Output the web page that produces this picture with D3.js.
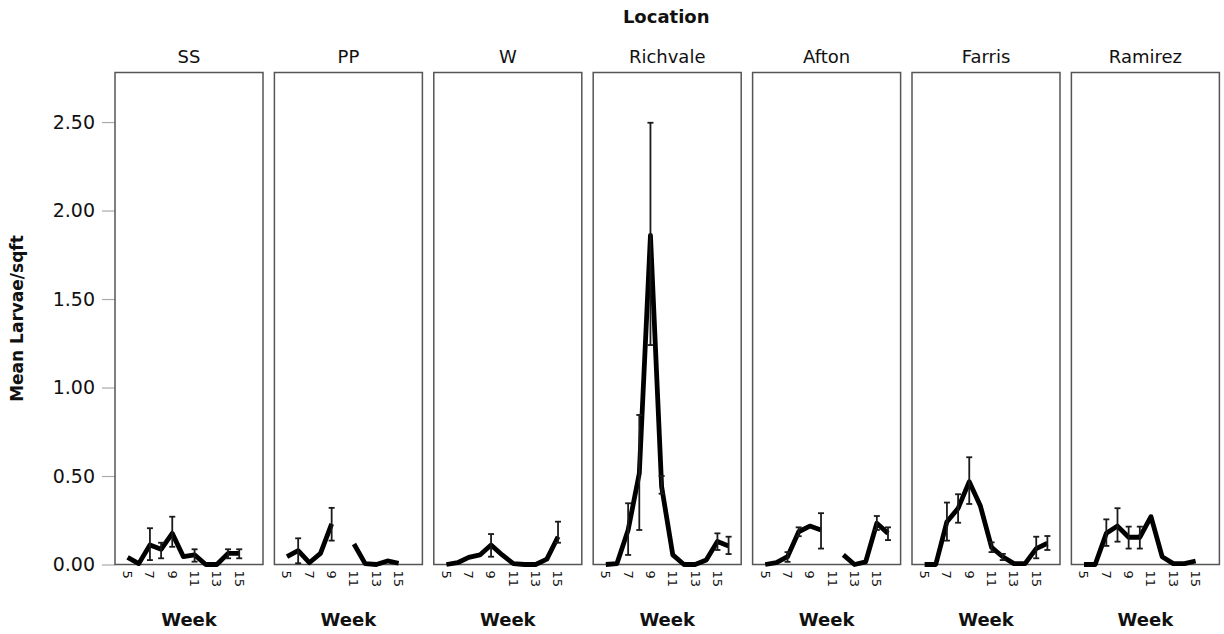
<!DOCTYPE html>
<html>
<head>
<meta charset="utf-8">
<script src="https://cdn.jsdelivr.net/npm/d3@7"></script>
<style>
  body { margin: 0; background: #fff; }
  text { font-family: "DejaVu Sans", sans-serif; fill: #111; }
</style>
</head>
<body>
<div class="chart"></div>
<script>
// categories
var locations = [`SS`, `PP`, `W`, `Richvale`, `Afton`, `Farris`, `Ramirez`];
var weeks = [5, 6, 7, 8, 9, 10, 11, 12, 13, 14, 15, 16];
var weekTicks = [5, 7, 9, 11, 13, 15];
var yTicks = [0, 0.5, 1, 1.5, 2, 2.5];

// mean larvae per sqft by week (null = no data)
var ssMean = [0.04, 0.005, 0.11, 0.086, 0.176, 0.044, 0.054, 0, 0, 0.063, 0.063, null];
var ppMean = [0.044, 0.078, 0.01, 0.063, 0.229, null, 0.116, 0.005, 0, 0.02, 0.007, null];
var wMean = [0, 0.01, 0.04, 0.054, 0.11, 0.054, 0.005, 0, 0, 0.03, 0.157, null];
var richvaleMean = [0, 0.005, 0.195, 0.515, 1.86, 0.44, 0.054, 0, 0, 0.025, 0.13, 0.105];
var aftonMean = [0, 0.01, 0.044, 0.185, 0.217, 0.195, null, 0.054, 0, 0.015, 0.233, 0.176];
var farrisMean = [0, 0, 0.242, 0.317, 0.468, 0.33, 0.097, 0.044, 0.005, 0.005, 0.09, 0.12];
var ramirezMean = [0, 0, 0.176, 0.217, 0.154, 0.154, 0.27, 0.044, 0.005, 0.005, 0.02, null];

// error bar low / high ends (null = no bar drawn)
var ssLo = [null, null, 0.025, 0.035, 0.10, null, 0.016, null, null, 0.035, 0.035, null];
var ssHi = [null, null, 0.205, 0.123, 0.27, null, 0.086, null, null, 0.086, 0.086, null];
var ppLo = [null, 0.007, null, null, 0.135, null, null, null, null, null, null, null];
var ppHi = [null, 0.148, null, null, 0.32, null, null, null, null, null, null, null];
var wLo = [null, null, null, null, 0.044, null, null, null, null, null, 0.123, null];
var wHi = [null, null, null, null, 0.172, null, null, null, null, null, 0.242, null];
var richvaleLo = [null, null, 0.054, 0.195, 1.24, 0.40, null, null, null, null, 0.082, 0.059];
var richvaleHi = [null, null, 0.346, 0.845, 2.496, 0.50, null, null, null, null, 0.176, 0.157];
var aftonLo = [null, null, 0.015, 0.16, null, 0.09, null, null, null, null, 0.195, 0.138];
var aftonHi = [null, null, 0.07, 0.21, null, 0.29, null, null, null, null, 0.274, 0.21];
var farrisLo = [null, null, 0.135, 0.236, 0.342, null, 0.07, 0.025, null, null, 0.035, 0.082];
var farrisHi = [null, null, 0.35, 0.397, 0.606, null, 0.125, 0.06, null, null, 0.157, 0.161];
var ramirezLo = [null, null, 0.105, 0.129, 0.09, 0.09, null, null, null, null, null, null];
var ramirezHi = [null, null, 0.255, 0.318, 0.214, 0.214, null, null, null, null, null, null];

var means = [ssMean, ppMean, wMean, richvaleMean, aftonMean, farrisMean, ramirezMean];
var los = [ssLo, ppLo, wLo, richvaleLo, aftonLo, farrisLo, ramirezLo];
var his = [ssHi, ppHi, wHi, richvaleHi, aftonHi, farrisHi, ramirezHi];

var fullWidth = 1224;
var fullHeight = 634;
var plotTop = 72.5, plotBottom = 564.5;

var svg = d3.select(`.chart`)
    .append(`svg`)
    .attr(`width`, fullWidth)
    .attr(`height`, fullHeight);

var panelScale = d3.scaleBand()
    .domain(locations)
    .range([115, 1219.4])
    .paddingInner(0.0715)
    .paddingOuter(0);

var yScale = d3.scaleLinear()
    .domain([0, 2.78])
    .range([plotBottom, plotTop]);

var xScale = d3.scaleLinear()
    .domain([3.87, 17.13])
    .range([0, panelScale.bandwidth()]);

// y axis on the left of the first panel
var yAxis = d3.axisLeft(yScale)
    .tickValues(yTicks)
    .tickFormat(d3.format(`.2f`))
    .tickSize(13)
    .tickPadding(7);

var yG = svg.append(`g`)
    .attr(`transform`, `translate(${panelScale(locations[0])},0)`)
    .call(yAxis);
yG.select(`.domain`).remove();
yG.selectAll(`line`).attr(`stroke`, `#aaa`).attr(`stroke-width`, 1.2);
yG.selectAll(`text`)
    .style(`font-family`, `"DejaVu Sans", sans-serif`)
    .style(`font-size`, `19px`)
    .attr(`fill`, `#111`);

svg.append(`text`)
    .attr(`transform`, `translate(23,${(plotTop + plotBottom) / 2}) rotate(-90)`)
    .attr(`text-anchor`, `middle`)
    .style(`font-size`, `17px`)
    .style(`font-weight`, `bold`)
    .text(`Mean Larvae/sqft`);

svg.append(`text`)
    .attr(`x`, (panelScale.range()[0] + panelScale.range()[1]) / 2 - 1)
    .attr(`y`, 23)
    .attr(`text-anchor`, `middle`)
    .style(`font-size`, `18px`)
    .style(`font-weight`, `bold`)
    .text(`Location`);

var line = d3.line()
    .defined(d => d.v != null)
    .x(d => xScale(d.w))
    .y(d => yScale(d.v));

locations.forEach(function (loc, i) {
    var g = svg.append(`g`)
        .attr(`transform`, `translate(${panelScale(loc)},0)`);

    g.append(`text`)
        .attr(`x`, panelScale.bandwidth() / 2)
        .attr(`y`, 63)
        .attr(`text-anchor`, `middle`)
        .style(`font-size`, `18px`)
        .text(loc);

    g.append(`rect`)
        .attr(`x`, 0)
        .attr(`y`, plotTop)
        .attr(`width`, panelScale.bandwidth())
        .attr(`height`, plotBottom - plotTop)
        .attr(`fill`, `none`)
        .attr(`stroke`, `#555`)
        .attr(`stroke-width`, 1.5);

    // x tick labels, rotated
    g.selectAll(`.wk`)
        .data(weekTicks)
        .enter()
        .append(`text`)
        .attr(`transform`, d => `translate(${xScale(d)},${plotBottom + 6}) rotate(90)`)
        .attr(`dy`, `.35em`)
        .style(`font-size`, `13px`)
        .text(d => d);

    g.append(`text`)
        .attr(`x`, panelScale.bandwidth() / 2)
        .attr(`y`, 626)
        .attr(`text-anchor`, `middle`)
        .style(`font-size`, `18px`)
        .style(`font-weight`, `bold`)
        .text(`Week`);

    var pts = weeks.map((w, j) => ({w: w, v: means[i][j], lo: los[i][j], hi: his[i][j]}));

    g.append(`path`)
        .datum(pts)
        .attr(`d`, line)
        .attr(`fill`, `none`)
        .attr(`stroke`, `#000`)
        .attr(`stroke-width`, 4.8)
        .attr(`stroke-linejoin`, `round`);

    var bars = pts.filter(d => d.lo != null && d.hi != null);
    var eb = g.selectAll(`.eb`)
        .data(bars)
        .enter()
        .append(`g`)
        .attr(`stroke`, `#1a1a1a`)
        .attr(`stroke-width`, 1.8);
    eb.append(`line`)
        .attr(`x1`, d => xScale(d.w))
        .attr(`x2`, d => xScale(d.w))
        .attr(`y1`, d => yScale(d.lo))
        .attr(`y2`, d => yScale(d.hi));
    eb.append(`line`)
        .attr(`x1`, d => xScale(d.w) - 3)
        .attr(`x2`, d => xScale(d.w) + 3)
        .attr(`y1`, d => yScale(d.hi))
        .attr(`y2`, d => yScale(d.hi));
    eb.append(`line`)
        .attr(`x1`, d => xScale(d.w) - 3)
        .attr(`x2`, d => xScale(d.w) + 3)
        .attr(`y1`, d => yScale(d.lo))
        .attr(`y2`, d => yScale(d.lo));
});
</script>
</body>
</html>
